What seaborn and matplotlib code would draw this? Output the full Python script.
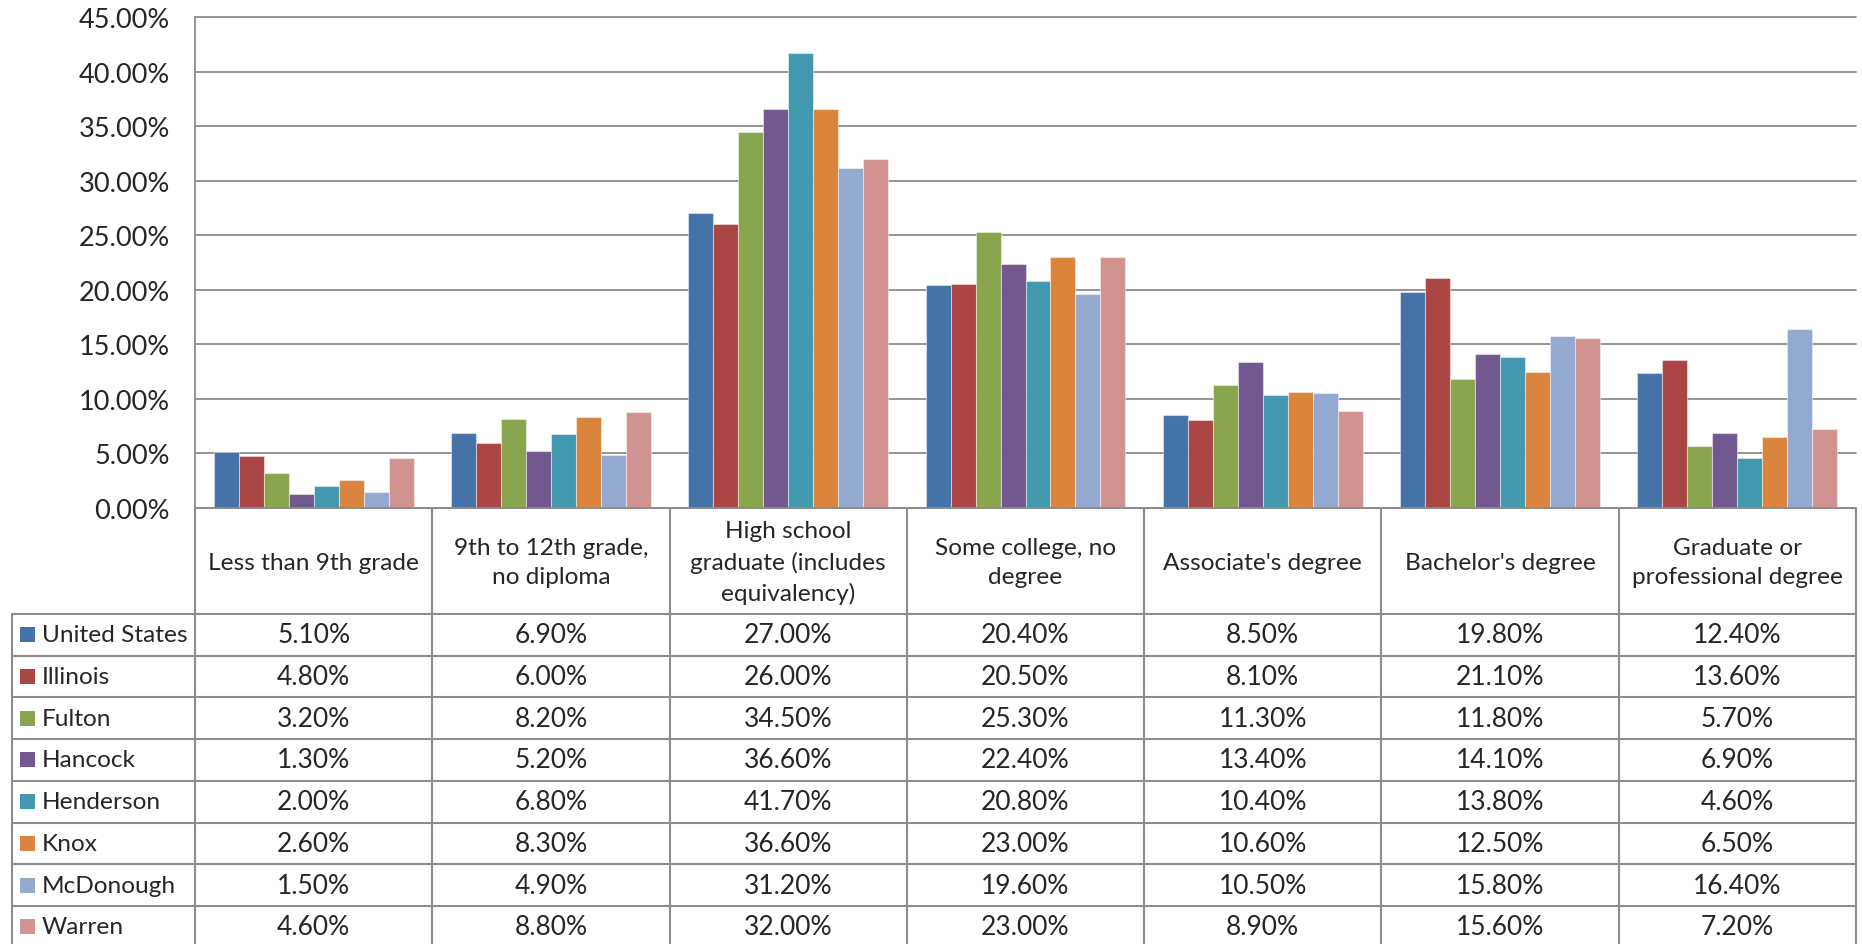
import matplotlib
matplotlib.use("Agg")
import matplotlib.pyplot as plt
import matplotlib.transforms as mtransforms
from matplotlib.ticker import FuncFormatter
import seaborn as sns
import pandas as pd

categories = [
    "Less than 9th grade",
    "9th to 12th grade,\nno diploma",
    "High school\ngraduate (includes\nequivalency)",
    "Some college, no\ndegree",
    "Associate's degree",
    "Bachelor's degree",
    "Graduate or\nprofessional degree",
]
series = ["United States", "Illinois", "Fulton", "Hancock", "Henderson",
          "Knox", "McDonough", "Warren"]
united_states = [5.1, 6.9, 27.0, 20.4, 8.5, 19.8, 12.4]
illinois = [4.8, 6.0, 26.0, 20.5, 8.1, 21.1, 13.6]
fulton = [3.2, 8.2, 34.5, 25.3, 11.3, 11.8, 5.7]
hancock = [1.3, 5.2, 36.6, 22.4, 13.4, 14.1, 6.9]
henderson = [2.0, 6.8, 41.7, 20.8, 10.4, 13.8, 4.6]
knox = [2.6, 8.3, 36.6, 23.0, 10.6, 12.5, 6.5]
mcdonough = [1.5, 4.9, 31.2, 19.6, 10.5, 15.8, 16.4]
warren = [4.6, 8.8, 32.0, 23.0, 8.9, 15.6, 7.2]
colors = ["#4572A7", "#AA4643", "#89A54E", "#71588F", "#4198AF",
          "#DB843D", "#93A9CF", "#D19392"]
yticks = [0, 5, 10, 15, 20, 25, 30, 35, 40, 45]

values = [united_states, illinois, fulton, hancock, henderson, knox,
          mcdonough, warren]
rows = []
for s, vals in zip(series, values):
    for c, v in zip(categories, vals):
        rows.append({"category": c, "series": s, "value": v})
df = pd.DataFrame(rows)

sns.set_style("white")
plt.rcParams["font.family"] = ["Lato", "DejaVu Sans"]

W, H = 1862, 945
fig = plt.figure(figsize=(W / 100, H / 100), dpi=100)
GRID = "#8c8c8c"
FS_NUM = 19
FS_TXT = 17.6

# pixel layout
ax_left, ax_right, ax_top, ax_bottom = 195, 1856, 18, 509
ax = fig.add_axes([ax_left / W, 1 - ax_bottom / H,
                   (ax_right - ax_left) / W, (ax_bottom - ax_top) / H])

sns.barplot(data=df, x="category", y="value", hue="series",
            order=categories, hue_order=series, palette=colors,
            width=8 / 9.5, saturation=1, legend=False,
            edgecolor=(1, 1, 1, 0.45), linewidth=0.8, ax=ax, errorbar=None)

ax.set_xlim(-0.5, len(categories) - 0.5)
ax.set_ylim(0, 45)
ax.set_yticks(yticks)
ax.yaxis.set_major_formatter(FuncFormatter(lambda v, p: f"{v:.2f}%"))
ax.set_xticks([])
ax.set_xlabel("")
ax.set_ylabel("")
ax.yaxis.grid(True, color=GRID, lw=1.3)
ax.set_axisbelow(True)
for sp in ["top", "right"]:
    ax.spines[sp].set_visible(False)
for sp in ["left", "bottom"]:
    ax.spines[sp].set_color(GRID)
    ax.spines[sp].set_linewidth(1.3)
ax.tick_params(axis="y", which="major", direction="out", length=6,
               width=1.3, color=GRID, pad=12, labelsize=19.5)
for line in ax.get_ygridlines():
    line.set_clip_on(False)

# overlay for the data table (pixel coordinates)
ov = fig.add_axes([0, 0, 1, 1], facecolor="none")
ov.set_xlim(0, W)
ov.set_ylim(H, 0)
ov.axis("off")
trans = mtransforms.blended_transform_factory(ax.transData, ov.transData)

header_top, header_bottom = 509, 615
row_h = 41.7
table_left = 12
n = len(categories)

# vertical column lines
for k in range(n + 1):
    ov.plot([k - 0.5, k - 0.5], [header_top, H + 5], transform=trans,
            color=GRID, lw=1.5, clip_on=False, solid_capstyle="butt")
ov.plot([table_left, table_left], [header_bottom, H + 5], color=GRID, lw=1.5,
        clip_on=False)
# horizontal row lines
for r in range(len(series) + 1):
    y = header_bottom + r * row_h
    ov.plot([table_left, ax_right], [y, y], color=GRID, lw=1.5, clip_on=False)

# header text
for k, c in enumerate(categories):
    ov.text(k, (header_top + header_bottom) / 2 + 1, c, transform=trans,
            ha="center", va="center", fontsize=FS_TXT, linespacing=1.5,
            multialignment="center")

# rows
for r, (s, vals, col) in enumerate(zip(series, values, colors)):
    yc = header_bottom + (r + 0.5) * row_h
    ov.add_patch(plt.Rectangle((20, yc - 7.5), 15, 15, color=col, lw=0))
    ov.text(42, yc, s, ha="left", va="center", fontsize=FS_TXT)
    for k, v in enumerate(vals):
        ov.text(k, yc, f"{v:.2f}%", transform=trans, ha="center",
                va="center", fontsize=FS_NUM)

fig.savefig("out.png", dpi=100)
